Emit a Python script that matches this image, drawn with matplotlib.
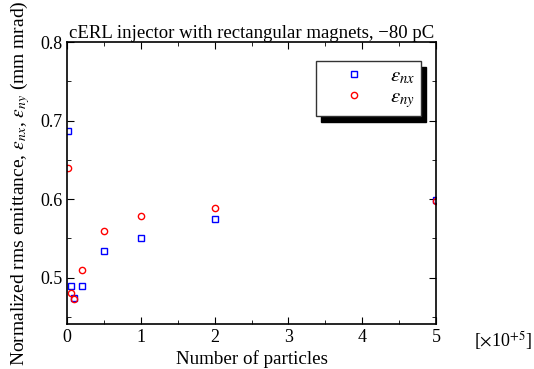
import numpy as np
import matplotlib
matplotlib.use("Agg")
import matplotlib.pyplot as plt
from matplotlib.ticker import MultipleLocator

plt.rcParams['font.family'] = ['Liberation Serif', 'DejaVu Serif']
plt.rcParams['mathtext.fontset'] = 'stix'

# number of particles [x10^5]
particles = [0.01, 0.05, 0.1, 0.2, 0.5, 1, 2, 5]
emit_x = [0.687, 0.490, 0.474, 0.490, 0.534, 0.550, 0.575, 0.599]
emit_y = [0.640, 0.480, 0.473, 0.510, 0.560, 0.579, 0.589, 0.598]

fig = plt.figure(figsize=(5.34, 3.69), dpi=100)
ax = fig.add_axes([0.1255, 0.122, 0.691, 0.764])

ax.plot(particles, emit_x, 's', ls='none', ms=4.8, mfc='none', mec='b', mew=1.0,
        label=r'$\varepsilon_{nx}$')
ax.plot(particles, emit_y, 'o', ls='none', ms=4.5, mfc='none', mec='r', mew=1.0,
        label=r'$\varepsilon_{ny}$')

ax.set_xlim(0, 5)
ax.set_ylim(0.441, 0.8)
ax.xaxis.set_major_locator(MultipleLocator(1))
ax.xaxis.set_minor_locator(MultipleLocator(0.5))
ax.yaxis.set_major_locator(MultipleLocator(0.1))
ax.yaxis.set_minor_locator(MultipleLocator(0.05))
ax.tick_params(which='both', direction='in', top=True, right=True, labelsize=13)
ax.tick_params(which='major', length=5)
ax.tick_params(which='minor', length=3)
for s in ax.spines.values():
    s.set_linewidth(1.2)

ax.set_title('cERL injector with rectangular magnets, \u221280 pC', fontsize=13.5, pad=3)
ax.set_xlabel('Number of particles', fontsize=13.7, labelpad=3)
ax.set_ylabel(r'Normalized rms emittance, $\varepsilon_{nx}$, $\varepsilon_{ny}$ (mm mrad)',
              fontsize=14, labelpad=6)
fig.text(0.888, 0.045, r'[$\times$10$^{+5}$]', fontsize=13, ha='left', va='bottom')

leg = ax.legend(loc='upper right', bbox_to_anchor=(0.959, 0.933), borderaxespad=0,
                fontsize=15, fancybox=False,
                shadow={'color': 'black', 'alpha': 1, 'ox': 4, 'oy': -4},
                framealpha=1, edgecolor='#333333', handletextpad=0.2,
                borderpad=0.3, labelspacing=0.05, handlelength=3.05)
leg.get_frame().set_linewidth(1.0)

plt.savefig('out.png', dpi=100)
